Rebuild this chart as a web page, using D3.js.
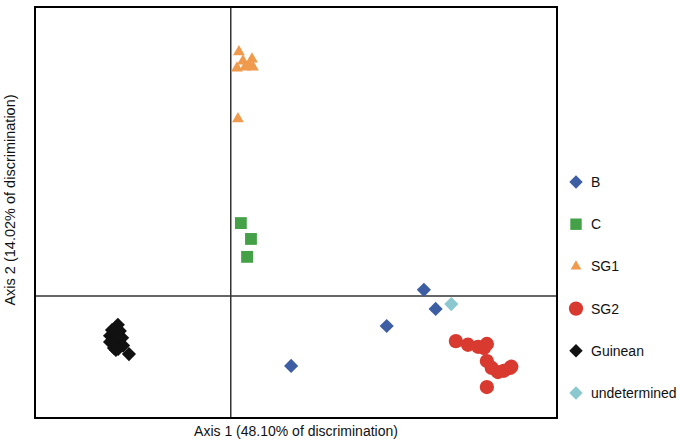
<!DOCTYPE html>
<html>
<head>
<meta charset="utf-8">
<script src="https://cdn.jsdelivr.net/npm/d3@7"></script>
<style>
  body { margin: 0; background: #fff; }
  text { font-family: "Liberation Sans", Arial, sans-serif; fill: #111; }
</style>
</head>
<body>
<script>
// discriminant scores, [axis1, axis2]
var groups = ["B", "C", "SG1", "SG2", "Guinean", "undetermined"];
var colors = ["#3d5ea3", "#45a147", "#ef9a4d", "#d93a30", "#111111", "#8cc8d0"];
var shapes = ["diamond", "square", "triangle", "circle", "diamond", "diamond"];

var ptsB = [[5.92, 0.15], [6.28, -0.32], [4.78, -0.74], [1.85, -1.72]];
var ptsC = [[0.31, 1.79], [0.62, 1.40], [0.50, 0.96]];
var ptsSG1 = [[0.25, 6.0], [0.375, 5.77], [0.65, 5.82], [0.19, 5.6], [0.44, 5.62],
              [0.68, 5.62], [0.56, 5.67], [0.22, 4.35]];
var ptsSG2 = [[6.90, -1.11], [7.27, -1.20], [7.58, -1.25], [7.85, -1.18], [7.76, -1.28],
              [7.85, -1.60], [8.0, -1.77], [8.19, -1.87], [8.37, -1.84], [8.56, -1.77],
              [8.6, -1.74], [7.85, -2.24]];
var ptsGuinean = [[-3.46, -0.71], [-3.64, -0.84], [-3.40, -0.86], [-3.70, -0.98], [-3.55, -1.08],
                  [-3.33, -1.03], [-3.70, -1.13], [-3.58, -1.20], [-3.40, -1.20], [-3.52, -1.33],
                  [-3.30, -1.22], [-3.12, -1.43], [-3.62, -1.02], [-3.45, -1.00], [-3.50, -0.90],
                  [-3.58, -1.28], [-3.45, -1.30]];
var ptsUndet = [[6.76, -0.20]];

var allPts = [ptsB, ptsC, ptsSG1, ptsSG2, ptsGuinean, ptsUndet];

var xLabel = "Axis 1 (48.10% of discrimination)";
var yLabel = "Axis 2 (14.02% of discrimination)";

var margin = {top: 7, right: 123, bottom: 24, left: 35},
    width = 680 - margin.left - margin.right,
    height = 442 - margin.top - margin.bottom;

var x = d3.scaleLinear().domain([-6, 10]).range([0, width]);
var y = d3.scaleLinear().domain([-3, 7.1]).range([height, 0]);

var svg = d3.select("body").append("svg")
    .attr("width", 680)
    .attr("height", 442);

var main = svg.append("g")
    .attr("transform", "translate(" + margin.left + "," + margin.top + ")");

// zero lines
main.append("line")
    .attr("x1", x(0)).attr("x2", x(0))
    .attr("y1", 0).attr("y2", height)
    .attr("stroke", "#333").attr("stroke-width", 1.5);
main.append("line")
    .attr("x1", 0).attr("x2", width)
    .attr("y1", y(0)).attr("y2", y(0))
    .attr("stroke", "#333").attr("stroke-width", 1.5);

function symbolFor(shape, size) {
  var t = shape == "diamond" ? d3.symbolSquare
        : shape == "square" ? d3.symbolSquare
        : shape == "triangle" ? d3.symbolTriangle
        : d3.symbolCircle;
  return d3.symbol().type(t).size(size)();
}
var sizes = {diamond: 100, square: 140, triangle: 60, circle: 160};

// points
allPts.forEach(function(pts, i) {
  main.selectAll(".g" + i)
    .data(pts)
    .enter().append("path")
    .attr("class", "g" + i)
    .attr("d", symbolFor(shapes[i], sizes[shapes[i]]))
    .attr("transform", function(d) {
      return "translate(" + x(d[0]) + "," + y(d[1]) + ")" + (shapes[i] == "diamond" ? "rotate(45)" : "");
    })
    .attr("fill", colors[i]);
});

// frame
main.append("rect")
    .attr("width", width).attr("height", height)
    .attr("fill", "none")
    .attr("stroke", "#000").attr("stroke-width", 2);

// axis titles
svg.append("text")
    .attr("text-anchor", "middle")
    .attr("x", 296)
    .attr("y", 436)
    .style("font-size", "14px")
    .text(xLabel);

svg.append("text")
    .attr("text-anchor", "middle")
    .attr("transform", "translate(15,200)rotate(-90)")
    .style("font-size", "14.5px")
    .text(yLabel);

// legend
var legend = svg.selectAll(".legend")
    .data(groups)
  .enter().append("g")
    .attr("class", "legend")
    .attr("transform", function(d, i) { return "translate(576," + (182 + i * 42.2) + ")"; });

var legSizes = {diamond: 90, square: 130, triangle: 50, circle: 160};
legend.append("path")
    .attr("d", function(d, i) { return symbolFor(shapes[i], legSizes[shapes[i]]); })
    .attr("transform", function(d, i) { return shapes[i] == "diamond" ? "rotate(45)" : ""; })
    .attr("fill", function(d, i) { return colors[i]; });

legend.append("text")
    .attr("x", 15)
    .attr("dy", ".36em")
    .style("font-size", "14px")
    .text(function(d) { return d; });
</script>
</body>
</html>
